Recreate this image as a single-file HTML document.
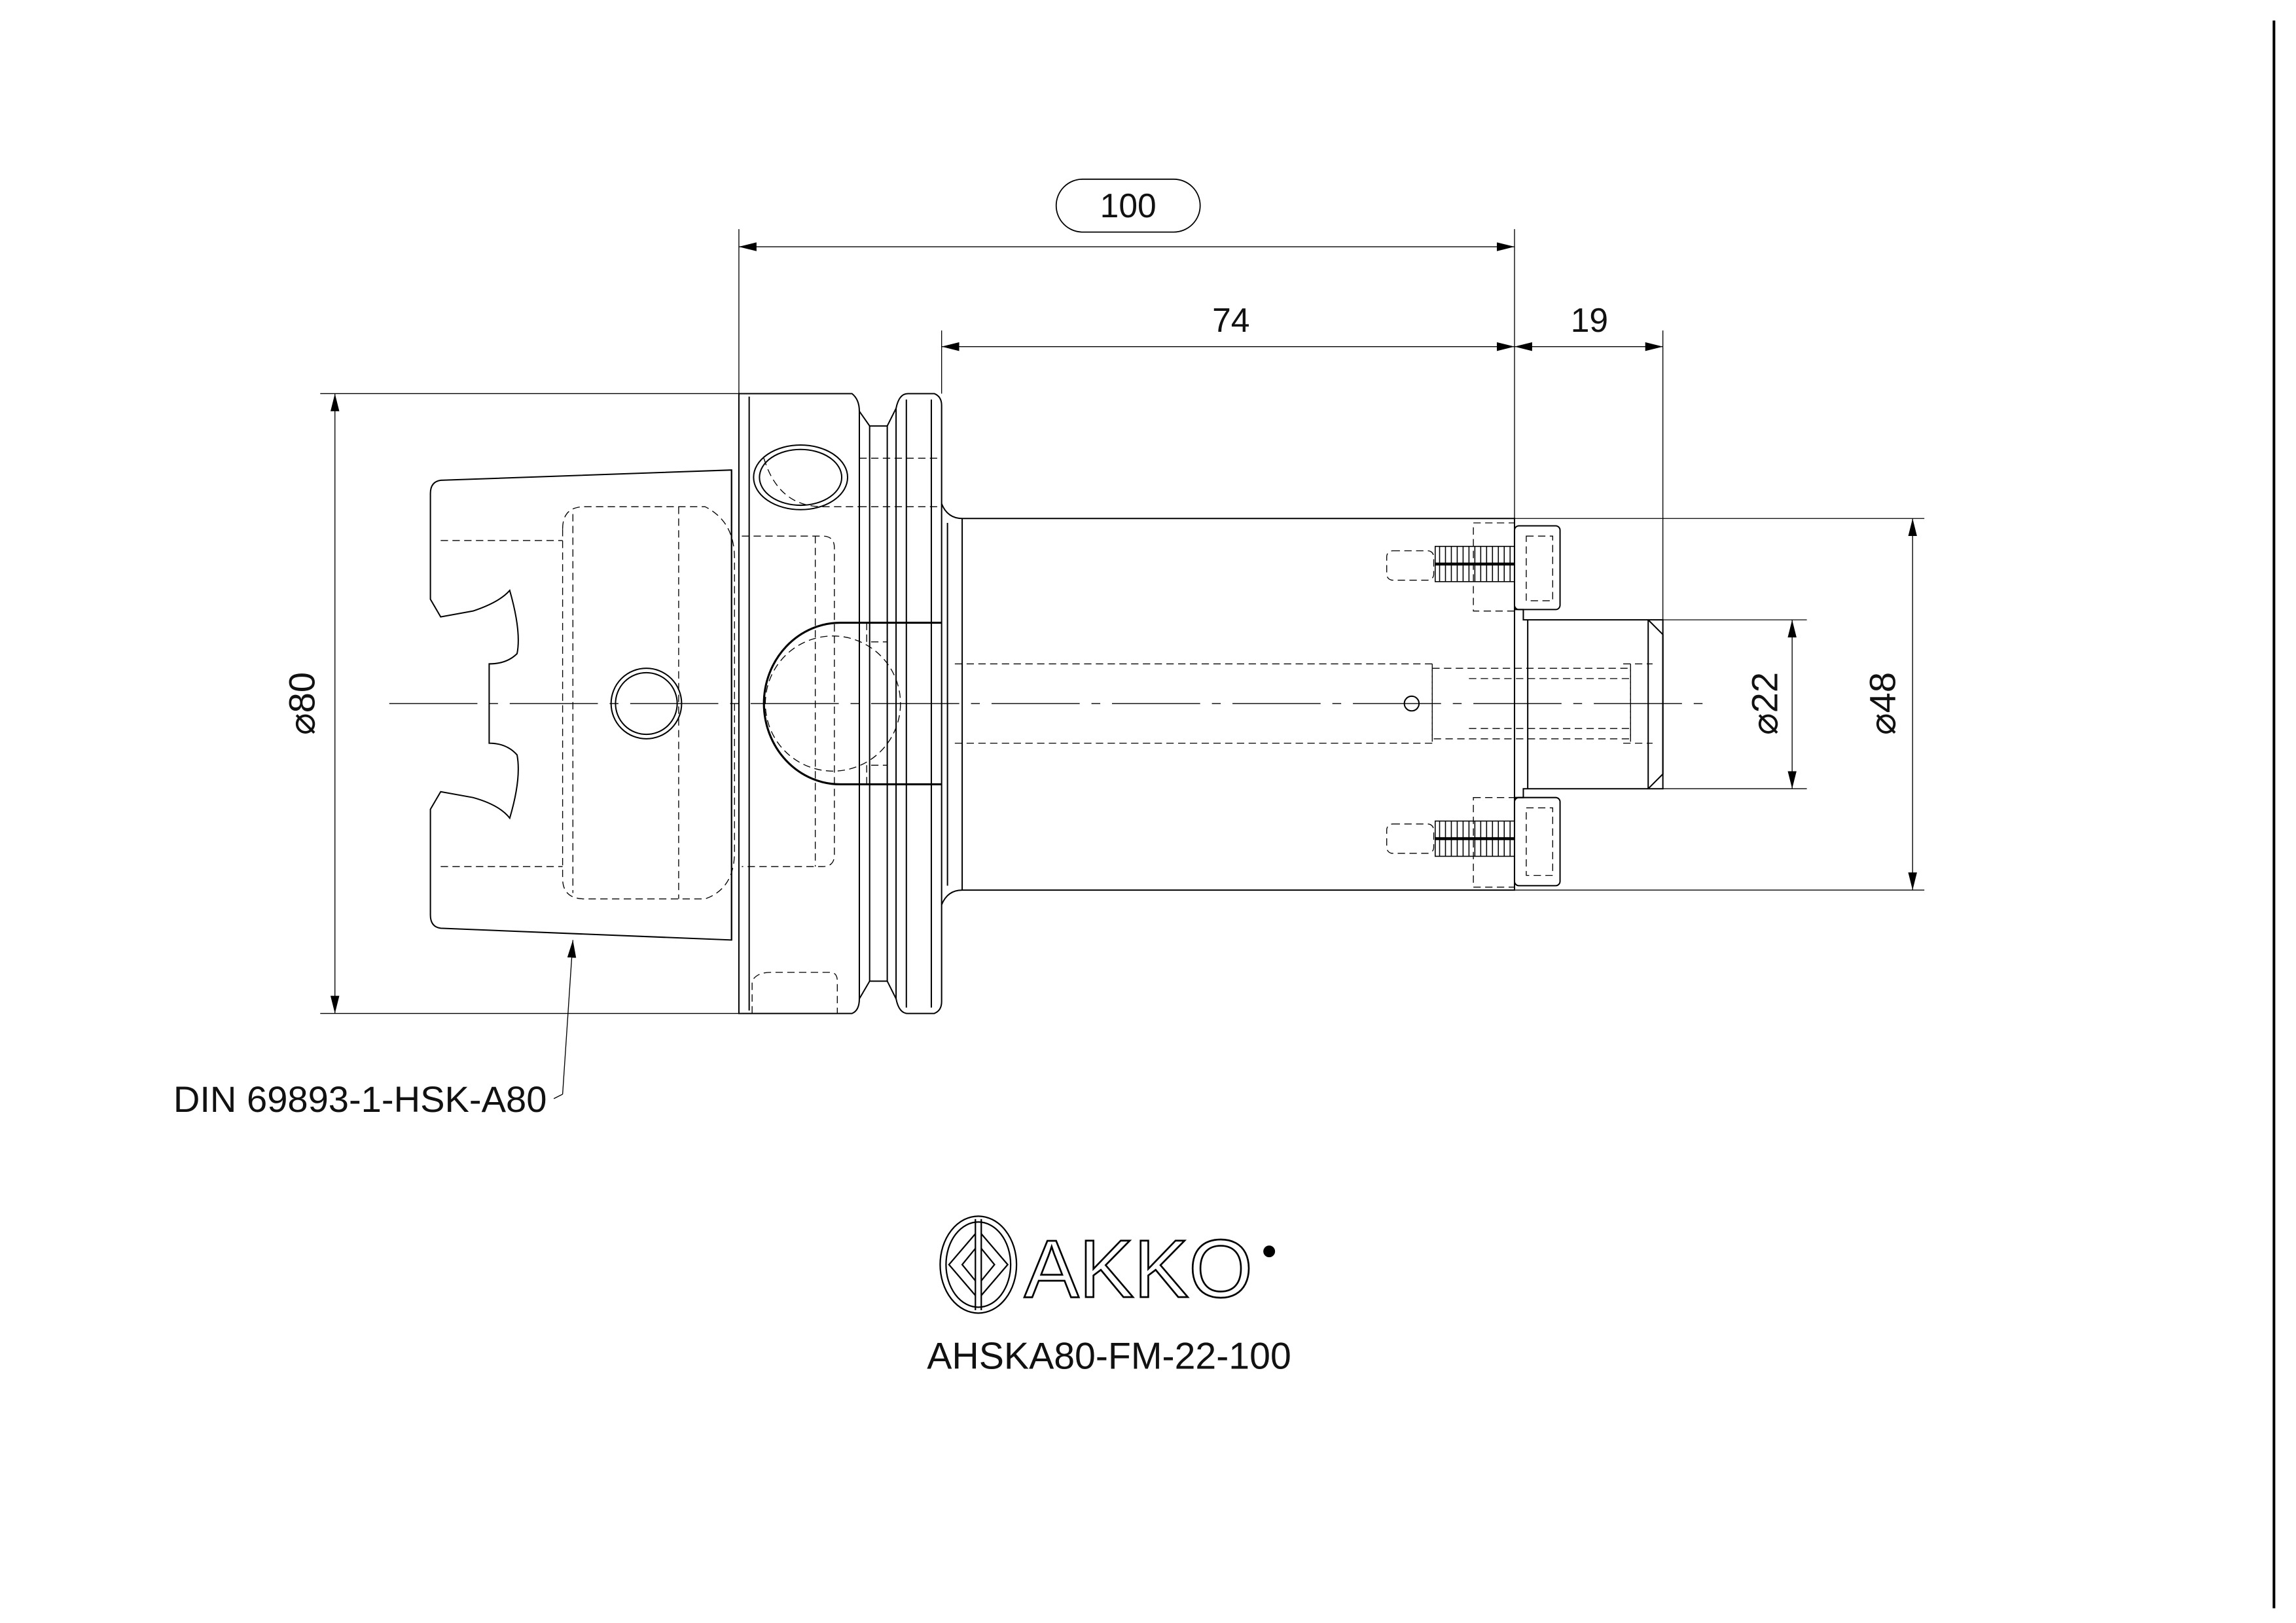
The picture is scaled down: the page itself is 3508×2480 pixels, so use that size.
<!DOCTYPE html>
<html><head><meta charset="utf-8"><style>
html,body{margin:0;padding:0;background:#fff;width:3508px;height:2480px;overflow:hidden}
svg{display:block}
text{font-family:"Liberation Sans",sans-serif;fill:#111}
</style></head><body>
<svg width="3508" height="2480" viewBox="0 0 1563 1105" preserveAspectRatio="none" xmlns="http://www.w3.org/2000/svg">
<defs>
<marker id="a" viewBox="0 0 12 6" refX="12" refY="3" markerWidth="12" markerHeight="6" markerUnits="userSpaceOnUse" orient="auto-start-reverse"><path d="M0,0 L12,3 L0,6 Z" fill="#000"/></marker>
</defs>
<g fill="none" stroke="#000" stroke-width="0.6">
<line x1="1548" y1="14" x2="1548" y2="1095" stroke-width="1.8"/>

<line x1="503" y1="156" x2="503" y2="270"/>
<line x1="1031" y1="156" x2="1031" y2="353"/>
<line x1="503" y1="168" x2="1031" y2="168" marker-start="url(#a)" marker-end="url(#a)"/>
<rect x="719" y="122" width="98" height="36" rx="18" stroke-width="0.8"/>
<line x1="641" y1="225" x2="641" y2="268"/>
<line x1="641" y1="236" x2="1031" y2="236" marker-start="url(#a)" marker-end="url(#a)"/>
<line x1="1031" y1="236" x2="1132" y2="236" marker-start="url(#a)" marker-end="url(#a)"/>
<line x1="1132" y1="225" x2="1132" y2="422"/>
<line x1="218" y1="268" x2="503" y2="268"/>
<line x1="218" y1="690" x2="503" y2="690"/>
<line x1="228" y1="268" x2="228" y2="690" marker-start="url(#a)" marker-end="url(#a)"/>
<line x1="1031" y1="353" x2="1310" y2="353"/>
<line x1="1031" y1="606" x2="1310" y2="606"/>
<line x1="1302" y1="353" x2="1302" y2="606" marker-start="url(#a)" marker-end="url(#a)"/>
<line x1="1132" y1="422" x2="1230" y2="422"/>
<line x1="1132" y1="537" x2="1230" y2="537"/>
<line x1="1220" y1="422" x2="1220" y2="537" marker-start="url(#a)" marker-end="url(#a)"/>

<line x1="383" y1="745" x2="390" y2="640" marker-end="url(#a)"/>
<line x1="383" y1="745" x2="377" y2="748"/>

<line x1="265" y1="479" x2="1165" y2="479" stroke-dasharray="60,8,6,8"/>

<g stroke-width="0.9">
<path d="M498,320 L300,327 Q293,328 293,336 L293,408 L300,420 L322,416 Q340,410 347,402 Q355,430 352,445 Q345,452 333,452 L333,506 Q345,506 352,514 Q355,530 347,557 Q340,548 322,543 L300,539 L293,551 L293,623 Q293,631 300,632 L498,640 Z"/>
<line x1="498" y1="320" x2="498" y2="640"/>
<path d="M503,268 L580,268 Q585,272 585,280 L585,680 Q585,688 580,690 L503,690 Z"/>
<line x1="510" y1="270" x2="510" y2="688"/>
<path d="M585,280 L592,290 L604,290 L610,278"/>
<path d="M585,680 L592,668 L604,668 L610,680"/>
<line x1="592" y1="290" x2="592" y2="668"/>
<line x1="604" y1="290" x2="604" y2="668"/>
<path d="M610,278 Q612,268 618,268 L636,268 Q641,270 641,276 L641,682 Q641,688 636,690 L618,690 Q612,690 610,680 Z"/>
<line x1="617" y1="272" x2="617" y2="686"/>
<line x1="634" y1="272" x2="634" y2="686"/>
<path d="M641,343 Q645,353 655,353 L1031,353 L1031,606 L655,606 Q645,606 641,616"/>
<line x1="655" y1="353" x2="655" y2="606"/>
<line x1="645" y1="356" x2="645" y2="603"/>
<path d="M1031,415 L1037,415 L1037,422 L1132,422 L1132,537 L1037,537 L1037,543 L1031,543"/>
<line x1="1040" y1="422" x2="1040" y2="537"/>
<path d="M1122,422 L1132,432 L1132,527 L1122,537"/>
<line x1="1122" y1="422" x2="1122" y2="537"/>
<rect x="1031" y="358" width="31" height="57" rx="3"/>
<rect x="1031" y="543" width="31" height="60" rx="3"/>
<circle cx="440" cy="479" r="24"/><circle cx="440" cy="479" r="21"/>
<ellipse cx="545" cy="325" rx="32" ry="22"/><ellipse cx="545" cy="325" rx="28" ry="19"/>
<path d="M641,424 L572,424 A52,55 0 0 0 572,534 L641,534" stroke-width="1.4"/>
<circle cx="961" cy="479" r="5"/>
</g>

<g stroke-dasharray="5,3" stroke-width="0.6">
<path d="M383,360 Q383,345 398,345 L480,345 Q500,355 500,380 L500,580 Q500,605 480,612 L398,612 Q383,612 383,598 Z"/>
<line x1="390" y1="350" x2="390" y2="608"/>
<line x1="462" y1="345" x2="462" y2="612"/>
<line x1="300" y1="368" x2="383" y2="368"/>
<line x1="300" y1="590" x2="383" y2="590"/>
<path d="M505,365 L560,365 Q568,365 568,373 L568,582 Q568,590 560,590 L505,590"/>
<line x1="555" y1="365" x2="555" y2="590"/>
<path d="M520,312 Q530,345 560,345 L585,345"/>
<line x1="585" y1="312" x2="641" y2="312"/>
<line x1="585" y1="345" x2="641" y2="345"/>
<circle cx="567" cy="479" r="46"/>
<path d="M590,424 L590,437 L604,437 L604,424"/>
<path d="M590,534 L590,521 L604,521 L604,534"/>
<line x1="612" y1="424" x2="641" y2="424"/>
<line x1="612" y1="534" x2="641" y2="534"/>
<line x1="641" y1="424" x2="641" y2="534"/>
<path d="M512,690 L512,668 Q515,662 525,662 L565,662 Q570,662 570,668 L570,690"/>
<line x1="650" y1="452" x2="975" y2="452"/>
<line x1="650" y1="506" x2="975" y2="506"/>
<line x1="975" y1="452" x2="975" y2="506"/>
<rect x="975" y="455" width="135" height="48"/>
<line x1="1000" y1="462" x2="1110" y2="462"/>
<line x1="1000" y1="496" x2="1110" y2="496"/>
<line x1="1110" y1="452" x2="1110" y2="506"/>
<line x1="1105" y1="452" x2="1125" y2="452"/>
<line x1="1105" y1="506" x2="1125" y2="506"/>
<rect x="1003" y="356" width="28" height="60"/>
<rect x="1003" y="543" width="28" height="61"/>
<rect x="1039" y="365" width="18" height="44"/>
<rect x="1039" y="550" width="18" height="46"/>
<rect x="944" y="375" width="32" height="20" rx="4"/>
<rect x="944" y="561" width="32" height="20" rx="4"/>
</g>

<g stroke-width="0.7">
<rect x="977" y="372" width="54" height="24"/>
<rect x="977" y="559" width="54" height="24"/>
<path d="M980,372 v24 M984,372 v24 M988,372 v24 M992,372 v24 M996,372 v24 M1000,372 v24 M1004,372 v24 M1008,372 v24 M1012,372 v24 M1016,372 v24 M1020,372 v24 M1024,372 v24 M1028,372 v24"/>
<path d="M980,559 v24 M984,559 v24 M988,559 v24 M992,559 v24 M996,559 v24 M1000,559 v24 M1004,559 v24 M1008,559 v24 M1012,559 v24 M1016,559 v24 M1020,559 v24 M1024,559 v24 M1028,559 v24"/>
<line x1="977" y1="384" x2="1031" y2="384" stroke-width="2"/>
<line x1="977" y1="571" x2="1031" y2="571" stroke-width="2"/>
</g>

<g stroke-width="1">
<ellipse cx="666" cy="861" rx="26" ry="33"/>
<ellipse cx="666" cy="861" rx="22" ry="29"/>
<path d="M664,830 L664,892 M668,830 L668,892"/>
<path d="M664,840 L646,861 L664,882 M668,840 L686,861 L668,882"/>
<path d="M664,850 L655,861 L664,872 M668,850 L677,861 L668,872"/>
</g>
</g>

<text x="768" y="148" font-size="23" text-anchor="middle">100</text>
<text x="838" y="226" font-size="23" text-anchor="middle">74</text>
<text x="1082" y="226" font-size="23" text-anchor="middle">19</text>
<text transform="translate(214,479) rotate(-90)" font-size="25" text-anchor="middle">⌀80</text>
<text transform="translate(1210,479) rotate(-90)" font-size="25" text-anchor="middle">⌀22</text>
<text transform="translate(1290,479) rotate(-90)" font-size="25" text-anchor="middle">⌀48</text>
<text x="118" y="757" font-size="25">DIN 69893-1-HSK-A80</text>
<text x="775" y="883" font-size="56" text-anchor="middle" stroke="#000" stroke-width="1.2" style="fill:none">AKKO</text>
<circle cx="864" cy="852" r="4" fill="#000"/>
<text x="755" y="932" font-size="25.5" text-anchor="middle">AHSKA80-FM-22-100</text>
</svg>
</body></html>
